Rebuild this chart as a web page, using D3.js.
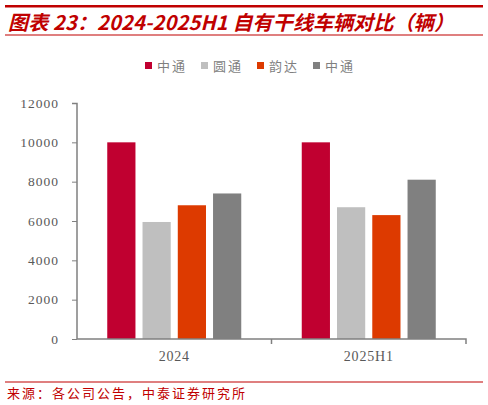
<!DOCTYPE html>
<html><head><meta charset="utf-8">
<script src="https://cdn.jsdelivr.net/npm/d3@7"></script>
<style>body{margin:0;background:#fff}svg{display:block}</style>
</head><body>
<svg id="c" width="488" height="405"></svg>
<script>
const categories = ["2024", "2025H1"];
const seriesNames = ["中通", "圆通", "韵达", "中通"];
const seriesColors = ["#C00030", "#BFBFBF", "#DD3A00", "#808080"];
const values2024 = [10000, 5950, 6800, 7400];
const values2025H1 = [10000, 6700, 6300, 8100];
const yTicks = [0, 2000, 4000, 6000, 8000, 10000, 12000];
const seriesValues = [values2024, values2025H1];

const svg = d3.select("#c");
const red = "#C00000";
// header
svg.append("rect").attr("x", 5).attr("y", 5).attr("width", 478).attr("height", 2.5).attr("fill", red);
svg.append("text").attr("x", 8).attr("y", 29.5)
  .attr("font-family", "'Noto Sans CJK SC', sans-serif").attr("font-size", 20)
  .attr("font-weight", "bold").attr("font-style", "italic").attr("fill", red)
  .attr("textLength", 446).attr("lengthAdjust", "spacing")
  .text("图表 23：2024-2025H1 自有干线车辆对比（辆）");
svg.append("rect").attr("x", 5).attr("y", 34.5).attr("width", 478).attr("height", 1).attr("fill", red);

// footer
svg.append("rect").attr("x", 5).attr("y", 381.5).attr("width", 478).attr("height", 1).attr("fill", red);
svg.append("text").attr("x", 7).attr("y", 398)
  .attr("font-family", "'Noto Sans CJK SC', sans-serif").attr("font-size", 13).attr("fill", red)
  .attr("textLength", 238).attr("lengthAdjust", "spacing")
  .text("来源：各公司公告，中泰证券研究所");

// scales
const x0 = d3.scaleBand().domain(categories).range([77, 466]);
const x1 = d3.scaleBand().domain(d3.range(seriesNames.length)).range([0, 134]).paddingInner(0.2);
const y = d3.scaleLinear().domain([0, 12000]).range([339, 103]);

// bars
categories.forEach((c, ci) => {
  const g = svg.append("g").attr("transform", `translate(${x0(c) + x0.bandwidth() / 2 - 67},0)`);
  g.selectAll("rect").data(seriesValues[ci]).join("rect")
    .attr("x", (d, i) => x1(i)).attr("width", x1.bandwidth())
    .attr("y", d => y(d)).attr("height", d => y(0) - y(d))
    .attr("fill", (d, i) => seriesColors[i]);
});

// y axis
const yAxis = svg.append("g").attr("transform", "translate(77,0)")
  .call(d3.axisLeft(y).tickValues(yTicks).tickSize(5).tickPadding(13).tickFormat(d3.format("d")));
yAxis.select(".domain").attr("stroke", "#808080").attr("stroke-width", 1.5).attr("d", "M-5,103.5H0V339");
yAxis.selectAll(".tick line").attr("stroke", "#808080");
yAxis.selectAll(".tick text").attr("fill", "#595959").attr("font-size", 13.5)
  .attr("letter-spacing", 1).attr("font-family", "'Liberation Serif', serif");

// x axis
const xAxis = svg.append("g").attr("transform", "translate(0,339)")
  .call(d3.axisBottom(x0).tickSize(0).tickPadding(12));
xAxis.select(".domain").attr("stroke", "#808080").attr("stroke-width", 1.5).attr("d", "M77,0H466V5");
xAxis.selectAll(".tick text").attr("fill", "#595959").attr("font-size", 14)
  .attr("letter-spacing", 0.8).attr("font-family", "'Liberation Serif', serif");
svg.append("g").selectAll("line").data(x0.domain().slice(1)).join("line")
  .attr("x1", d => x0(d)).attr("x2", d => x0(d)).attr("y1", 339).attr("y2", 344)
  .attr("stroke", "#808080").attr("stroke-width", 1.5);

// legend
const legend = svg.append("g").attr("transform", "translate(145,66)");
const items = legend.selectAll("g").data(seriesNames).join("g")
  .attr("transform", (d, i) => `translate(${i * 56},0)`);
items.append("rect").attr("x", 0).attr("y", -4).attr("width", 7).attr("height", 7)
  .attr("fill", (d, i) => seriesColors[i]);
items.append("text").attr("x", 12).attr("y", 4.5)
  .attr("font-family", "'Noto Sans CJK SC', sans-serif").attr("font-size", 13).attr("fill", "#7f7f7f")
  .attr("letter-spacing", 2).text(d => d);
</script>
</body></html>
